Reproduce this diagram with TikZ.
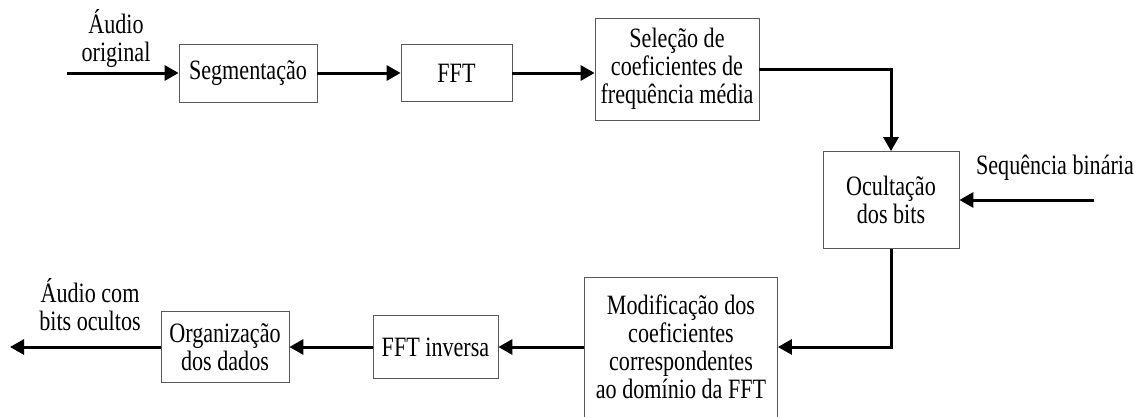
\documentclass[tikz,border=0pt]{standalone}
\usepackage{fontspec}
\setmainfont[FakeStretch=0.79]{Liberation Serif}
\usetikzlibrary{arrows.meta}
\tikzset{
	bloco/.style={draw=black!65, line width=0.8pt, align=center, inner sep=2pt},
	seta/.style={line width=3pt, -{Triangle[length=14pt,width=15pt]}},
}
\begin{document}
\begin{tikzpicture}[x=1pt, y=-1pt, font=\fontsize{28}{28}\selectfont, line join=miter]
	\useasboundingbox (0,0) rectangle (1144,416);
	% blocos
	\node[bloco, minimum width=138pt, minimum height=58pt] (seg) at (248,73) {Segmenta\c{c}\~ao};
	\node[bloco, minimum width=111pt, minimum height=57pt] (fft) at (456.5,73) {FFT};
	\node[bloco, minimum width=164pt, minimum height=102pt] (sel) at (677,69) {Sele\c{c}\~ao de\\coeficientes de\\frequ\^encia m\'edia};
	\node[bloco, minimum width=136pt, minimum height=97pt] (oc) at (891,200) {Oculta\c{c}\~ao\\dos bits};
	\node[bloco, minimum width=193pt, minimum height=140pt] (mod) at (681,347) {Modifica\c{c}\~ao dos\\coeficientes\\correspondentes\\ao dom\'inio da FFT};
	\node[bloco, minimum width=125pt, minimum height=63pt] (inv) at (435.5,347) {FFT inversa};
	\node[bloco, minimum width=128pt, minimum height=71pt] (org) at (225,347) {Organiza\c{c}\~ao\\dos dados};
	% textos de entrada e saida
	\node[align=center] (orig) at (116,38) {\'Audio\\original};
	\node (seqtxt) at (1055,168) {Sequ\^encia bin\'aria};
	\node[align=center] (saida) at (90,305) {\'Audio com\\bits ocultos};
	\coordinate (ent) at (67,73);
	\coordinate (seq) at (1094,200);
	\coordinate (sai) at (10,347);
	% setas
	\draw[seta] (ent) -- (seg.west);
	\draw[seta] (seg) -- (fft);
	\draw[seta] (fft.east) -- (fft.east -| sel.west);
	\draw[seta] (sel.east) -| (oc.north);
	\draw[seta] (seq) -- (oc.east);
	\draw[seta] (oc.south) |- (mod.east);
	\draw[seta] (mod.west) -- (inv.east);
	\draw[seta] (inv) -- (org);
	\draw[seta] (org.west) -- (sai);
\end{tikzpicture}
\end{document}
